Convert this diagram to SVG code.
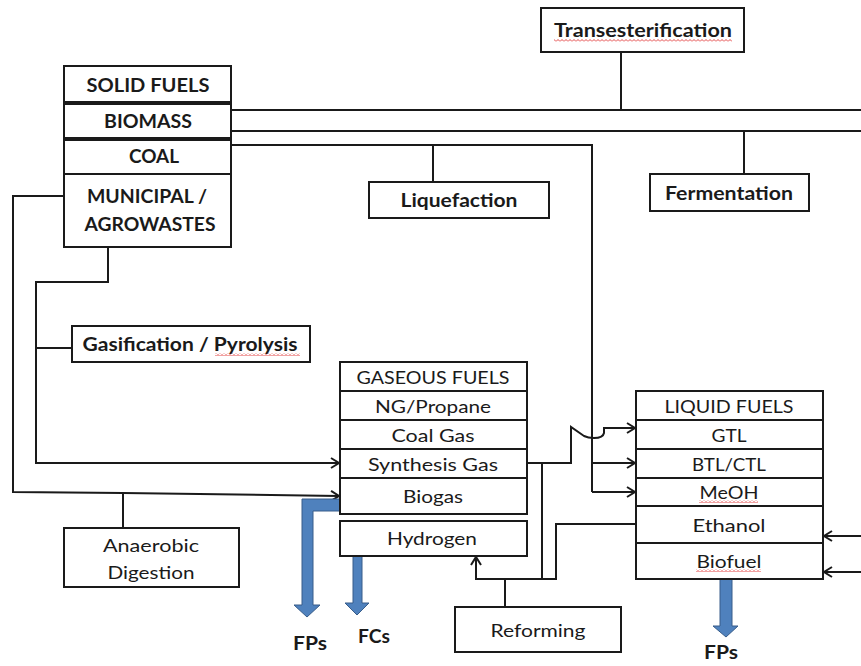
<svg xmlns="http://www.w3.org/2000/svg" width="861" height="666" viewBox="0 0 861 666">
<defs>
<style>
.bx{fill:#fff;stroke:#1a1a1a;stroke-width:2}
.ln{fill:none;stroke:#1a1a1a;stroke-width:2}
.t{font-family:Lato,"Open Sans","Liberation Sans",sans-serif;font-size:18px;fill:#1a1a1a;text-anchor:middle}
.b{font-weight:bold}
.blue{fill:#4F81BD;stroke:#385D8A;stroke-width:1}
.sq{fill:url(#squig)}
</style>
<marker id="ah" markerWidth="12" markerHeight="12" refX="10" refY="6" orient="auto" markerUnits="userSpaceOnUse">
<path d="M2,1 L10,6 L2,11" fill="none" stroke="#1a1a1a" stroke-width="2"/>
</marker>
<pattern id="squig" width="4" height="3" patternUnits="userSpaceOnUse">
<path d="M0,2.5 L2,0.5 L4,2.5" fill="none" stroke="#e03030" stroke-width="0.9"/>
</pattern>
</defs>
<rect width="861" height="666" fill="#fff"/>

<g id="connectors">
<path class="ln" d="M621,52 V110"/>
<path class="ln" d="M231,110 H861"/>
<path class="ln" d="M231,131 H861"/>
<path class="ln" d="M744,131 V174"/>
<path class="ln" d="M231,145 H592 V492"/>
<path class="ln" d="M433,145 V182"/>
<path class="ln" d="M592,463 H635" marker-end="url(#ah)"/>
<path class="ln" d="M592,492 H635" marker-end="url(#ah)"/>
<path class="ln" d="M64,196 H13 V492 L123,493 L339,496" marker-end="url(#ah)"/>
<path class="ln" d="M123,493 V528"/>
<path class="ln" d="M108,247 V282 H36 V463 H339" marker-end="url(#ah)"/>
<path class="ln" d="M36,348 H72"/>
<path class="ln" d="M527,463 H571 V427 L584,436 Q588,438 594,438 Q603,438 604,433 V428 H635" marker-end="url(#ah)"/>
<path class="ln" d="M542,463 V579"/>
<path class="ln" d="M556,579 H476 V557" marker-end="url(#ah)"/>
<path class="ln" d="M542,579 H556 V524 H636"/>
<path class="ln" d="M505,579 V607"/>
<path class="ln" d="M861,536 H824" marker-end="url(#ah)"/>
<path class="ln" d="M861,572 H824" marker-end="url(#ah)"/>
</g>

<g id="blue-arrows">
<polygon class="blue" points="340,499 302,499 302,605 294,605 307,617 320,605 313,605 313,511 340,511"/>
<polygon class="blue" points="353,556 362,556 362,603 369,603 357,615 345,603 353,603"/>
<polygon class="blue" points="720,579 732,579 732,626 738,626 726,637 713,626 720,626"/>
</g>

<g id="transesterification">
<rect class="bx" x="541" y="8" width="203" height="44"/>
<text class="t b" x="643" y="37" textLength="178" lengthAdjust="spacingAndGlyphs">Transesterification</text>
<rect class="sq" x="554" y="39" width="178" height="3"/>
</g>

<g id="solid-fuels">
<rect class="bx" x="64" y="66" width="167" height="36"/>
<text class="t b" x="148" y="92" textLength="123" lengthAdjust="spacingAndGlyphs">SOLID  FUELS</text>
</g>
<g id="biomass">
<rect class="bx" x="64" y="104" width="167" height="34"/>
<text class="t b" x="148" y="128" textLength="88" lengthAdjust="spacingAndGlyphs">BIOMASS</text>
</g>
<g id="coal">
<rect class="bx" x="64" y="140" width="167" height="34"/>
<text class="t b" x="154" y="163" textLength="50" lengthAdjust="spacingAndGlyphs">COAL</text>
</g>
<g id="municipal">
<rect class="bx" x="64" y="174" width="167" height="73"/>
<text class="t b" x="147" y="203" textLength="120" lengthAdjust="spacingAndGlyphs">MUNICIPAL /</text>
<text class="t b" x="150" y="231" textLength="131" lengthAdjust="spacingAndGlyphs">AGROWASTES</text>
</g>

<g id="liquefaction">
<rect class="bx" x="369" y="182" width="180" height="36"/>
<text class="t b" x="459" y="207" textLength="117" lengthAdjust="spacingAndGlyphs">Liquefaction</text>
</g>

<g id="fermentation">
<rect class="bx" x="650" y="174" width="159" height="37"/>
<text class="t b" x="729" y="200" textLength="128" lengthAdjust="spacingAndGlyphs">Fermentation</text>
</g>

<g id="gasification">
<rect class="bx" x="72" y="326" width="238" height="36"/>
<text class="t b" x="190" y="351" textLength="215" lengthAdjust="spacingAndGlyphs">Gasification / Pyrolysis</text>
<rect class="sq" x="215" y="353" width="85" height="3"/>
</g>

<g id="anaerobic">
<rect class="bx" x="64" y="528" width="175" height="59"/>
<text class="t" x="151" y="552" textLength="96" lengthAdjust="spacingAndGlyphs">Anaerobic</text>
<text class="t" x="151" y="579" textLength="87" lengthAdjust="spacingAndGlyphs">Digestion</text>
</g>

<g id="gaseous-fuels">
<rect class="bx" x="340" y="362" width="187" height="152"/>
<path class="ln" d="M340,391 H527 M340,420 H527 M340,449 H527 M340,478 H527"/>
<text class="t" x="433" y="384" textLength="153" lengthAdjust="spacingAndGlyphs">GASEOUS  FUELS</text>
<text class="t" x="433" y="413" textLength="116" lengthAdjust="spacingAndGlyphs">NG/Propane</text>
<text class="t" x="433" y="442" textLength="83" lengthAdjust="spacingAndGlyphs">Coal  Gas</text>
<text class="t" x="433" y="471" textLength="130" lengthAdjust="spacingAndGlyphs">Synthesis  Gas</text>
<text class="t" x="433" y="503" textLength="60" lengthAdjust="spacingAndGlyphs">Biogas</text>
</g>

<g id="hydrogen">
<rect class="bx" x="340" y="521" width="187" height="35"/>
<text class="t" x="432" y="545" textLength="90" lengthAdjust="spacingAndGlyphs">Hydrogen</text>
</g>

<g id="liquid-fuels">
<rect class="bx" x="636" y="391" width="187" height="188"/>
<path class="ln" d="M636,420 H823 M636,449 H823 M636,478 H823 M636,506 H823 M636,543 H823"/>
<text class="t" x="729" y="413" textLength="129" lengthAdjust="spacingAndGlyphs">LIQUID  FUELS</text>
<text class="t" x="729" y="442" textLength="35" lengthAdjust="spacingAndGlyphs">GTL</text>
<text class="t" x="729" y="471" textLength="74" lengthAdjust="spacingAndGlyphs">BTL/CTL</text>
<text class="t" x="729" y="499" textLength="59" lengthAdjust="spacingAndGlyphs">MeOH</text>
<rect class="sq" x="699" y="500" width="59" height="3"/>
<text class="t" x="729" y="532" textLength="73" lengthAdjust="spacingAndGlyphs">Ethanol</text>
<text class="t" x="729" y="568" textLength="65" lengthAdjust="spacingAndGlyphs">Biofuel</text>
<rect class="sq" x="696" y="569" width="65" height="3"/>
</g>

<g id="reforming">
<rect class="bx" x="455" y="607" width="166" height="45"/>
<text class="t" x="538" y="637" textLength="95" lengthAdjust="spacingAndGlyphs">Reforming</text>
</g>

<g id="labels">
<text class="t b" x="310" y="650" textLength="34" lengthAdjust="spacingAndGlyphs">FPs</text>
<text class="t b" x="374" y="643" textLength="32" lengthAdjust="spacingAndGlyphs">FCs</text>
<text class="t b" x="721" y="659" textLength="34" lengthAdjust="spacingAndGlyphs">FPs</text>
</g>
</svg>
